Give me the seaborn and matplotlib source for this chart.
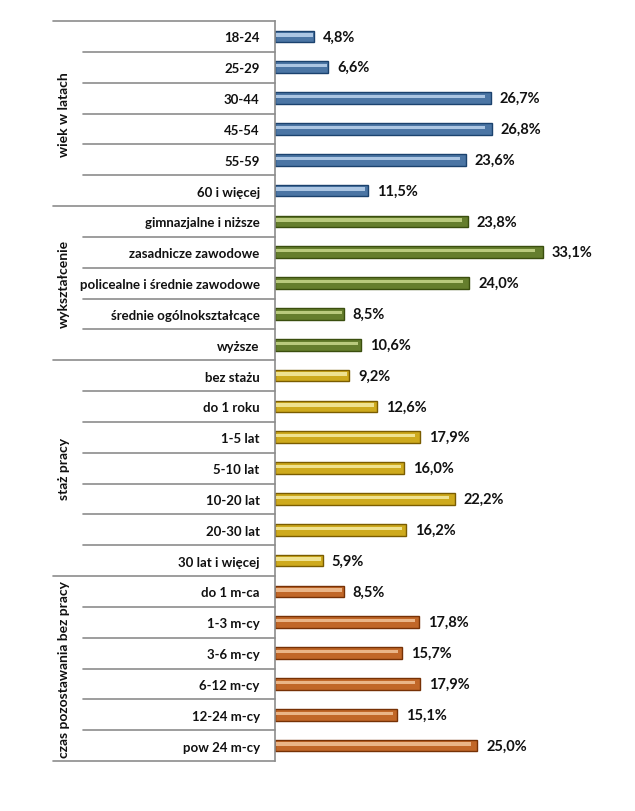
import numpy as np
import pandas as pd
import seaborn as sns
import matplotlib.pyplot as plt
import matplotlib.transforms as mtransforms

# data
age_labels = ['18-24', '25-29', '30-44', '45-54', '55-59', '60 i więcej']
age_values = [4.8, 6.6, 26.7, 26.8, 23.6, 11.5]

edu_labels = ['gimnazjalne i niższe', 'zasadnicze zawodowe', 'policealne i średnie zawodowe',
              'średnie ogólnokształcące', 'wyższe']
edu_values = [23.8, 33.1, 24.0, 8.5, 10.6]

work_labels = ['bez stażu', 'do 1 roku', '1-5 lat', '5-10 lat', '10-20 lat', '20-30 lat', '30 lat i więcej']
work_values = [9.2, 12.6, 17.9, 16.0, 22.2, 16.2, 5.9]

unemp_labels = ['do 1 m-ca', '1-3 m-cy', '3-6 m-cy', '6-12 m-cy', '12-24 m-cy', 'pow 24 m-cy']
unemp_values = [8.5, 17.8, 15.7, 17.9, 15.1, 25.0]

group_names = ['wiek w latach', 'wykształcenie', 'staż pracy', 'czas pozostawania bez pracy']

groups = [(age_labels, age_values), (edu_labels, edu_values),
          (work_labels, work_values), (unemp_labels, unemp_values)]

rows = []
for name, (labs, vals) in zip(group_names, groups):
    for l, v in zip(labs, vals):
        rows.append({'grupa': name, 'kategoria': l, 'wartosc': v})
df = pd.DataFrame(rows)

main_col = {'wiek w latach': '#3C74B3', 'wykształcenie': '#6A8B20',
            'staż pracy': '#EBBB00', 'czas pozostawania bez pracy': '#DA620F'}
light_col = {'wiek w latach': '#A3C5EC', 'wykształcenie': '#C0D770',
             'staż pracy': '#FFEE80', 'czas pozostawania bez pracy': '#FAB477'}
edge_col = {'wiek w latach': '#1B426E', 'wykształcenie': '#3A4E0E',
            'staż pracy': '#7A5C00', 'czas pozostawania bez pracy': '#763105'}

sns.set_style('white')
plt.rcParams['font.family'] = ['Lato', 'DejaVu Sans']

W, H = 635, 812
fig = plt.figure(figsize=(W / 100, H / 100), dpi=100)
x0, x1 = 275, 620
y_top, y_bot = 22, 762
ax = fig.add_axes([x0 / W, (H - y_bot) / H, (x1 - x0) / W, (y_bot - y_top) / H])
px_per_pct = 8.09
ax.set_xlim(0, (x1 - x0) / px_per_pct)

# main bars
sns.barplot(data=df, x='wartosc', y='kategoria', hue='grupa', palette=main_col,
            orient='h', width=0.38, dodge=False, legend=False, ax=ax,
            edgecolor='none')
n_main = len(ax.patches)
for p, g in zip(ax.patches, df['grupa']):
    p.set_edgecolor(edge_col[g])
    p.set_linewidth(1.0)

# highlight stripe for the cylinder look
sns.barplot(data=df, x='wartosc', y='kategoria', hue='grupa', palette=light_col,
            orient='h', width=0.11, dodge=False, legend=False, ax=ax,
            edgecolor='none')
for p in ax.patches[n_main:]:
    p.set_y(p.get_y() - 0.05)
    p.set_x(0.15)
    p.set_width(p.get_width() * 0.97 - 0.15)

ax.set_ylim(len(df) - 0.5, -0.5)

# value labels
for i, v in enumerate(df['wartosc']):
    ax.text(v + 1.1, i, f'{v:.1f}%'.replace('.', ','), va='center', ha='left',
            fontsize=10.5, fontweight='bold', color='#111111')

ax.set_xlabel('')
ax.set_ylabel('')
ax.set_xticks([])
ax.tick_params(axis='y', length=0, pad=11)
for t in ax.get_yticklabels():
    t.set_fontweight('bold')
    t.set_fontsize(9.5)
    t.set_color('#111111')

for s in ['top', 'right', 'bottom']:
    ax.spines[s].set_visible(False)
ax.spines['left'].set_color('#8C8C8C')
ax.spines['left'].set_linewidth(1.2)

# row separators on the label side
trans = mtransforms.blended_transform_factory(ax.transAxes, ax.transData)
short_x = (83 - x0) / (x1 - x0)
long_x = (53 - x0) / (x1 - x0)
bounds = np.cumsum([0] + [len(l) for l, _ in groups])
for b in range(len(df) + 1):
    start = long_x if b in bounds else short_x
    ax.plot([start, 0], [b - 0.5, b - 0.5], color='#8C8C8C', lw=1.2,
            transform=trans, clip_on=False)

# rotated group names
gx = (64 - x0) / (x1 - x0)
for name, a, b in zip(group_names, bounds[:-1], bounds[1:]):
    ax.text(gx, (a + b - 1) / 2, name, rotation=90, ha='center', va='center',
            fontsize=10, fontweight='bold', color='#111111', transform=trans)

fig.savefig('out.png', dpi=100)
